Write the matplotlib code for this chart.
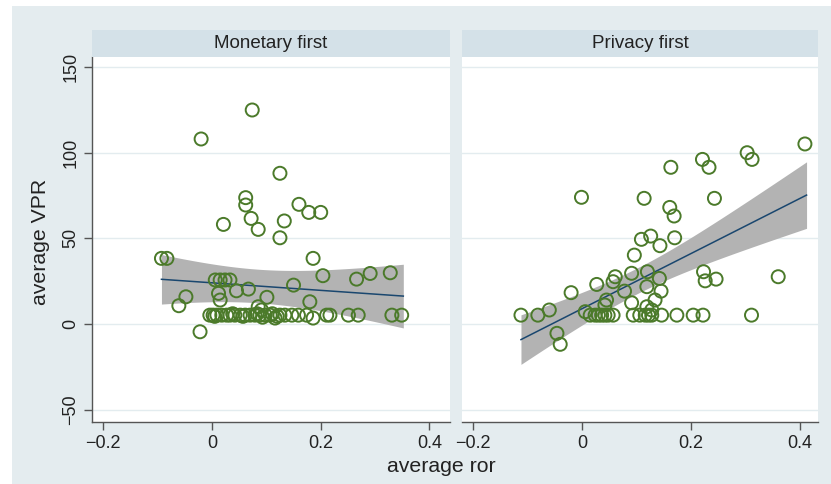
import numpy as np
import matplotlib
matplotlib.use("Agg")
import matplotlib.pyplot as plt
from matplotlib.patches import Rectangle

plt.rcParams['font.family'] = ['Liberation Sans', 'DejaVu Sans']

# ---------------- data ----------------
panel_titles = ["Monetary first", "Privacy first"]
x_label = "average ror"
y_label = "average VPR"
x_ticks = [-0.2, 0, 0.2, 0.4]
x_ticklabels = ["\u22120.2", "0", "0.2", "0.4"]
y_ticks = [-50, 0, 50, 100, 150]
y_ticklabels = ["\u221250", "0", "50", "100", "150"]

mon_x = [0.074, -0.020, 0.125, 0.062, 0.062, 0.160, 0.178, 0.200, 0.021, 0.072,
         0.085, 0.133, 0.125, -0.093, -0.083, 0.186, 0.204, 0.266, 0.291, 0.328,
         0.150, 0.006, 0.015, 0.024, 0.033, 0.045, 0.067, 0.012, 0.015, -0.048,
         -0.061, 0.101, 0.180, 0.085, 0.091, -0.022,
         -0.004, 0.002, 0.009, 0.018, 0.027, 0.033, 0.042, 0.052, 0.061, 0.070,
         0.079, 0.088, 0.098, 0.107, 0.116, 0.125, 0.134, 0.147, 0.159, 0.174,
         0.186, 0.211, 0.217, 0.251, 0.269, 0.331, 0.349,
         0.005, 0.038, 0.057, 0.083, 0.093, 0.111, 0.120]
mon_y = [124.8, 107.9, 87.9, 73.7, 69.4, 69.8, 65.1, 65.1, 58.1, 61.6,
         55.2, 60.1, 50.3, 38.3, 38.3, 38.3, 28.2, 26.2, 29.5, 29.9,
         22.7, 25.7, 25.7, 25.7, 25.7, 19.4, 20.4, 17.9, 14.0, 15.9,
         10.7, 15.6, 13.0, 10.1, 8.2, -4.5,
         5.2, 5.2, 5.2, 5.2, 5.2, 5.2, 5.2, 5.2, 5.2, 5.2,
         5.2, 5.2, 5.2, 5.2, 3.5, 5.2, 5.2, 5.2, 5.2, 5.2,
         3.5, 5.2, 5.2, 5.2, 5.2, 5.2, 5.2,
         4.5, 6.0, 4.5, 6.0, 4.0, 6.0, 4.5]

priv_x = [0.409, 0.303, 0.312, 0.221, 0.233, 0.163, -0.001, 0.114, 0.243, 0.161,
          0.169, 0.126, 0.109, 0.143, 0.170, 0.096, 0.091, 0.120, 0.223, 0.360,
          0.061, 0.057, 0.142, 0.226, 0.246, 0.027, -0.020, 0.078, 0.119, 0.145,
          0.134, 0.091, 0.045, 0.042, 0.119, 0.128, -0.060, -0.081, -0.112, 0.006,
          -0.046, -0.040,
          0.015, 0.024, 0.030, 0.036, 0.042, 0.048, 0.057, 0.094, 0.106, 0.116,
          0.122, 0.128, 0.146, 0.174, 0.204, 0.222, 0.311]
priv_y = [105.0, 99.9, 96.0, 96.0, 91.4, 91.4, 73.9, 73.3, 73.3, 68.0,
          63.0, 51.3, 49.4, 45.7, 50.3, 40.2, 29.6, 30.5, 30.5, 27.6,
          27.6, 24.7, 26.6, 25.2, 26.2, 23.1, 18.3, 19.2, 21.8, 19.2,
          14.0, 12.4, 14.0, 11.1, 10.1, 8.2, 8.2, 5.2, 5.2, 7.2,
          -5.4, -11.8,
          5.2, 5.2, 5.2, 5.2, 5.2, 5.2, 5.2, 5.2, 5.2, 5.2,
          5.2, 5.2, 5.2, 5.2, 5.2, 5.2, 5.2]

# linear-fit summaries (line and 95% CI band)
mon_fit_intercept, mon_fit_slope = 24.05, -22.0
mon_fit_xrange = (-0.093, 0.352)
mon_ci_min_halfwidth, mon_ci_center_x, mon_ci_x_var = 9.8, 0.086, 0.0273

priv_fit_intercept, priv_fit_slope = 8.95, 160.8
priv_fit_xrange = (-0.112, 0.412)
priv_ci_min_halfwidth, priv_ci_center_x, priv_ci_x_var = 7.5, 0.102, 0.0169

panels_x = [mon_x, priv_x]
panels_y = [mon_y, priv_y]
fits = [(mon_fit_intercept, mon_fit_slope, mon_fit_xrange,
         mon_ci_min_halfwidth, mon_ci_center_x, mon_ci_x_var),
        (priv_fit_intercept, priv_fit_slope, priv_fit_xrange,
         priv_ci_min_halfwidth, priv_ci_center_x, priv_ci_x_var)]

# ---------------- style ----------------
W, H = 831, 484
BG = "#e4ecef"
STRIP = "#d4e1e8"
GRID = "#e3ecef"
GREEN = "#4b7a2a"
NAVY = "#1a476f"
BAND = "#b3b3b3"
AXC = "#555555"

fig = plt.figure(figsize=(W / 100, H / 100), dpi=100)
fig.patch.set_facecolor("white")
fig.patches.append(Rectangle((12 / W, 0), 1 - 12 / W, 1 - 6 / H,
                             transform=fig.transFigure, facecolor=BG,
                             edgecolor="none", zorder=-10))

def fx(px):
    return px / W

def fy(py):
    return 1 - py / H

ax_top, ax_bot = 57, 422
strip_top = 30
lefts = [(92, 450), (462, 818)]
xlims = [(-0.2208, 0.4379), (-0.2202, 0.4330)]
ylim = (-57.1, 155.7)

for i, ((l, r), xl) in enumerate(zip(lefts, xlims)):
    ax = fig.add_axes([fx(l), fy(ax_bot), fx(r - l), (ax_bot - ax_top) / H])
    ax.set_facecolor("white")
    ax.set_xlim(*xl)
    ax.set_ylim(*ylim)
    x = np.asarray(panels_x[i])
    y = np.asarray(panels_y[i])

    a, b, (x0, x1), hw, xc, xv = fits[i]
    xs = np.linspace(x0, x1, 200)
    yhat = a + b * xs
    half = hw * np.sqrt(1 + (xs - xc) ** 2 / xv)
    ax.fill_between(xs, yhat - half, yhat + half, color=BAND,
                    linewidth=0, zorder=2)
    ax.plot(xs, yhat, color=NAVY, linewidth=1.1, zorder=3)
    ax.scatter(x, y, s=88, facecolors="none", edgecolors=GREEN,
               linewidths=1.4, zorder=4)

    for yt in y_ticks:
        ax.axhline(yt, color=GRID, linewidth=1.0, zorder=1)

    ax.set_xticks(x_ticks)
    ax.set_xticklabels(x_ticklabels, fontsize=13, color="#222222")
    ax.tick_params(axis="x", direction="out", length=6, width=1.0,
                   color=AXC, pad=3)
    for sp in ["top", "right"]:
        ax.spines[sp].set_visible(False)
    ax.spines["bottom"].set_color(AXC)
    ax.spines["bottom"].set_linewidth(1.0)
    ax.set_yticks(y_ticks)
    if i == 0:
        ax.set_yticklabels(y_ticklabels, fontsize=13, color="#222222",
                           rotation=90, va="center")
        ax.tick_params(axis="y", direction="out", length=6, width=1.0,
                       color=AXC, pad=3)
        ax.spines["left"].set_color(AXC)
        ax.spines["left"].set_linewidth(1.0)
    else:
        ax.tick_params(axis="y", length=0, labelleft=False)
        ax.spines["left"].set_visible(False)

    # strip header
    fig.patches.append(Rectangle((fx(l), fy(ax_top)), fx(r - l),
                                 (ax_top - strip_top) / H,
                                 transform=fig.transFigure, facecolor=STRIP,
                                 edgecolor="none", zorder=1))
    fig.text(fx((l + r) / 2), fy((ax_top + strip_top) / 2), panel_titles[i],
             ha="center", va="center", fontsize=13.5, color="#222222")

fig.text(fx(40), fy(242), y_label, rotation=90, ha="center", va="center",
         fontsize=15.3, color="#222222")
fig.text(fx(441), fy(466), x_label, ha="center", va="center",
         fontsize=15.3, color="#222222")

fig.savefig("out.png", dpi=100, facecolor=fig.get_facecolor())
